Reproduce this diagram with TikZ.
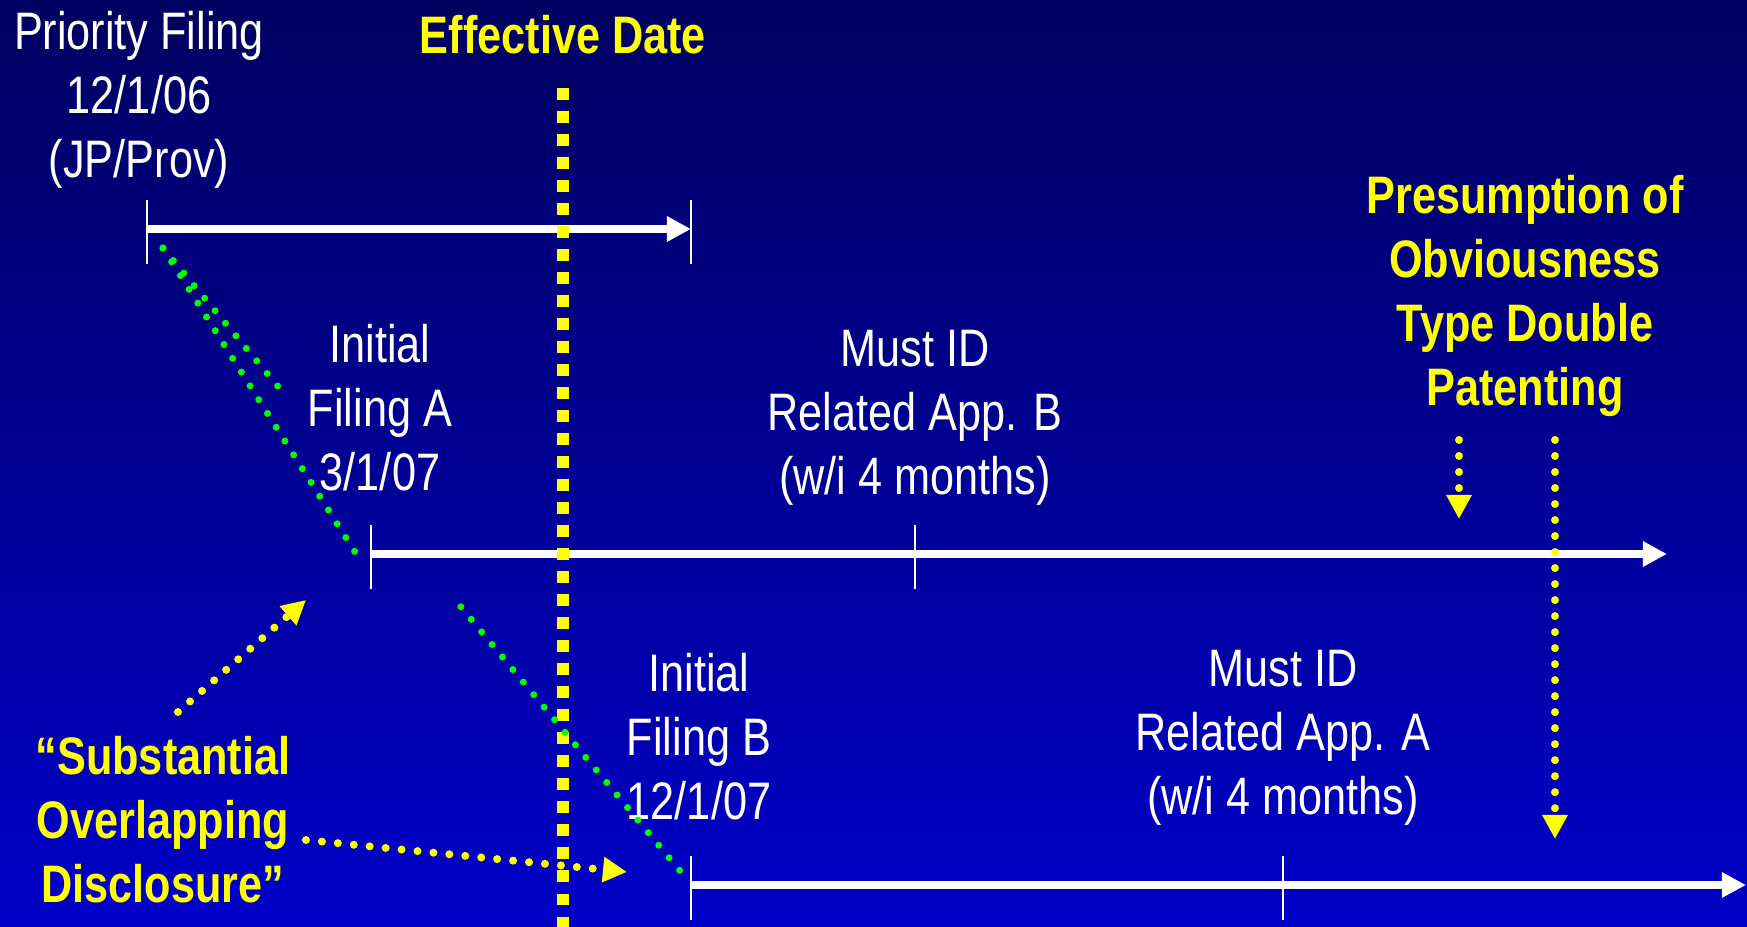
\documentclass[tikz,border=0pt]{standalone}
\usepackage{fontspec}
\setmainfont{Liberation Sans}[FakeStretch=0.82]
\usepackage{tikz}
\usetikzlibrary{arrows.meta,calc}

\definecolor{slidetop}{RGB}{0,0,96}
\definecolor{slidebottom}{RGB}{0,0,200}
\definecolor{hiyellow}{RGB}{255,255,0}
\definecolor{higreen}{RGB}{0,255,0}

\begin{document}
\begin{tikzpicture}
[x=0.01cm,y=-0.01cm,>={Triangle[length=0.24cm,width=0.24cm]},
 every node/.style={inner sep=0pt,align=center,font=\fontsize{15pt}{18.2pt}\selectfont}]
  \tikzstyle{whitetext}=[text=white]
  \tikzstyle{yellowtext}=[text=hiyellow,font=\fontsize{15pt}{18.2pt}\selectfont\bfseries]
  \tikzstyle{timeline}=[->,draw=white,line width=0.075cm]
  \tikzstyle{tick}=[draw=white,line width=0.022cm]
  \tikzstyle{datedash}=[draw=hiyellow,line width=0.12cm,dash pattern=on 0.115cm off 0.115cm]
  \tikzstyle{greendots}=[draw=higreen,line width=0.07cm,line cap=round,dash pattern=on 0pt off 0.163cm]
  \tikzstyle{yellowdots}=[->,draw=hiyellow,line width=0.08cm,line cap=round,dash pattern=on 0pt off 0.16cm]

  \shade[top color=slidetop,bottom color=slidebottom] (0,0) rectangle (1747,927);
  \useasboundingbox (0,0) rectangle (1747,927);

  \node[whitetext]             (prio)    at (139,100)  {Priority Filing\\12/1/06\\(JP/Prov)};
  \node[yellowtext,anchor=base] (eff)    at (563,53)   {Effective Date};
  \node[whitetext]             (initA)   at (380,408)  {Initial\\Filing A\\3/1/07};
  \node[whitetext]             (mustB)   at (915,418)  {Must ID\\Related App. B\\(w/i 4 months)};
  \node[whitetext]             (initB)   at (699,737)  {Initial\\Filing B\\12/1/07};
  \node[whitetext]             (mustA)   at (1283,738) {Must ID\\Related App. A\\(w/i 4 months)};
  \node[yellowtext]            (presump) at (1525,296) {Presumption of\\Obviousness\\Type Double\\Patenting};
  \node[yellowtext]            (overlap) at (163,820)  {“Substantial\\Overlapping\\Disclosure”};

  \coordinate (p0) at (147,229);
  \coordinate (p1) at (691,229);
  \coordinate (a0) at (371,554);
  \coordinate (am) at (915,554);
  \coordinate (a1) at (1667,554);
  \coordinate (b0) at (691,885);
  \coordinate (bm) at (1283,885);
  \coordinate (b1) at (1746,885);

  \draw[timeline] (p0) -- (p1);
  \draw[timeline] (a0) -- (a1);
  \draw[timeline] (b0) -- (b1);
  \draw[tick] (p0) ++(0,-29) -- ++(0,64);
  \draw[tick] (p1) ++(0,-29) -- ++(0,64);
  \draw[tick] (a0) ++(0,-29) -- ++(0,64);
  \draw[tick] (am) ++(0,-29) -- ++(0,64);
  \draw[tick] (b0) ++(0,-29) -- ++(0,64);
  \draw[tick] (bm) ++(0,-29) -- ++(0,64);

  \coordinate (d0) at (563,88);
  \coordinate (d1) at (563,927);
  \draw[datedash] (d0) -- (d1);

  % overlap of the priority text with both filings
  \coordinate (g0) at (163,248);
  \coordinate (gA) at (355,552);
  \coordinate (gB) at (681,872);
  \draw[greendots] (g0) -- (gA);
  \draw[greendots] (g0) -- ($(g0)!0.23!(gB)$);
  \draw[greendots] ($(g0)!0.575!(gB)$) -- (gB);

  \coordinate (s1) at (178,712);
  \coordinate (t1) at (306,600);
  \coordinate (s2) at (306,840);
  \coordinate (t2) at (627,872);
  \coordinate (s3) at (1459,440);
  \coordinate (t3) at (1459,519);
  \coordinate (s4) at (1555,440);
  \coordinate (t4) at (1555,839);
  \draw[yellowdots] (s1) -- (t1);
  \draw[yellowdots] (s2) -- (t2);
  \draw[yellowdots] (s3) -- (t3);
  \draw[yellowdots] (s4) -- (t4);
\end{tikzpicture}
\end{document}
